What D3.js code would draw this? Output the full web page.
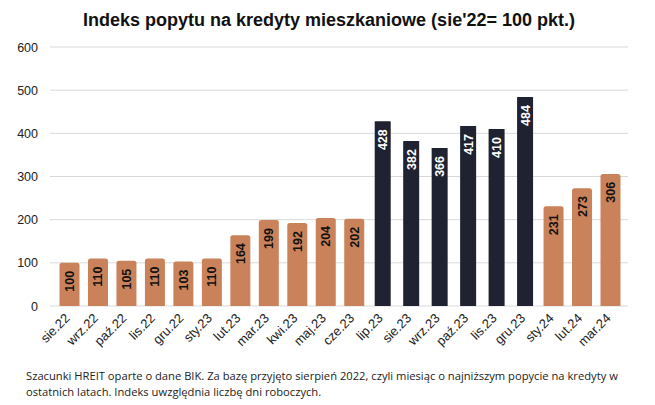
<!DOCTYPE html>
<html><head><meta charset="utf-8">
<script src="https://cdn.jsdelivr.net/npm/d3@7"></script>
<style>body{margin:0;background:#fff;} svg{display:block;font-family:"Liberation Sans",Arial,sans-serif;}</style>
</head><body>
<svg id="c" width="655" height="405"></svg>
<script>
const categories = ["sie.22","wrz.22","paź.22","lis.22","gru.22","sty.23","lut.23","mar.23","kwi.23","maj.23","cze.23","lip.23","sie.23","wrz.23","paź.23","lis.23","gru.23","sty.24","lut.24","mar.24"];
const values = [100,110,105,110,103,110,164,199,192,204,202,428,382,366,417,410,484,231,273,306];
const highlighted = [false,false,false,false,false,false,false,false,false,false,false,true,true,true,true,true,true,false,false,false];
const yTicks = [0,100,200,300,400,500,600];
const title = "Indeks popytu na kredyty mieszkaniowe (sie'22= 100 pkt.)";
const footnote = ["Szacunki HREIT oparte o dane BIK. Za bazę przyjęto sierpień 2022, czyli miesiąc o najniższym popycie na kredyty w","ostatnich latach. Indeks uwzględnia liczbę dni roboczych."];

const svg = d3.select("#c");
const x = d3.scaleBand().domain(categories).range([51, 629]).padding(0.3);
const y = d3.scaleLinear().domain([0, 600]).range([306, 47]);

svg.append("text").attr("x", 329).attr("y", 26).attr("text-anchor","middle")
  .attr("font-size", 18).attr("font-weight","bold").attr("fill","#111").text(title);

const g = svg.append("g");
g.selectAll("line.grid").data(yTicks).join("line").attr("class","grid")
  .attr("x1", 50).attr("x2", 628).attr("y1", d=>y(d)).attr("y2", d=>y(d))
  .attr("stroke","#d9d9d9").attr("stroke-width",1);
g.selectAll("text.yl").data(yTicks).join("text").attr("class","yl")
  .attr("x", 38).attr("y", d=>y(d)+4.5).attr("text-anchor","end")
  .attr("font-size", 12.5).attr("fill","#222").text(d=>d);

const orange = "#c9825a", dark = "#1f2230";
const bars = g.selectAll("g.bar").data(categories).join("g").attr("class","bar");
bars.append("path").attr("d", (c,i)=>{
  const w = highlighted[i] ? 16 : 20;
  const cx = x(c) + x.bandwidth()/2;
  const x0 = cx - w/2, x1 = cx + w/2, yt = y(values[i]), yb = y(0), r = highlighted[i]?0.5:2.5;
  return `M${x0},${yb}V${yt+r}Q${x0},${yt} ${x0+r},${yt}H${x1-r}Q${x1},${yt} ${x1},${yt+r}V${yb}Z`;
}).attr("fill", (c,i)=>highlighted[i]?dark:orange);

bars.append("text").attr("transform",(c,i)=>{
  const cx = x(c) + x.bandwidth()/2;
  return `translate(${cx+4.5},${y(values[i])+8}) rotate(-90)`;
}).attr("text-anchor","end").attr("font-size", 12.5).attr("font-weight","bold")
  .attr("fill",(c,i)=>highlighted[i]?"#fff":"#111").text((c,i)=>values[i]);

g.selectAll("text.xl").data(categories).join("text").attr("class","xl")
  .attr("transform", c=>`translate(${x(c)+x.bandwidth()/2+1},${319}) rotate(-45)`)
  .attr("text-anchor","end").attr("font-size", 13).attr("fill","#222").text(c=>c);

svg.selectAll("text.fn").data(footnote).join("text").attr("class","fn")
  .attr("x", 26).attr("y",(d,i)=>380+i*16).attr("font-size", 11.2).attr("fill","#222")
  .attr("font-family","'Open Sans',sans-serif").text(d=>d);
</script>
</body></html>
